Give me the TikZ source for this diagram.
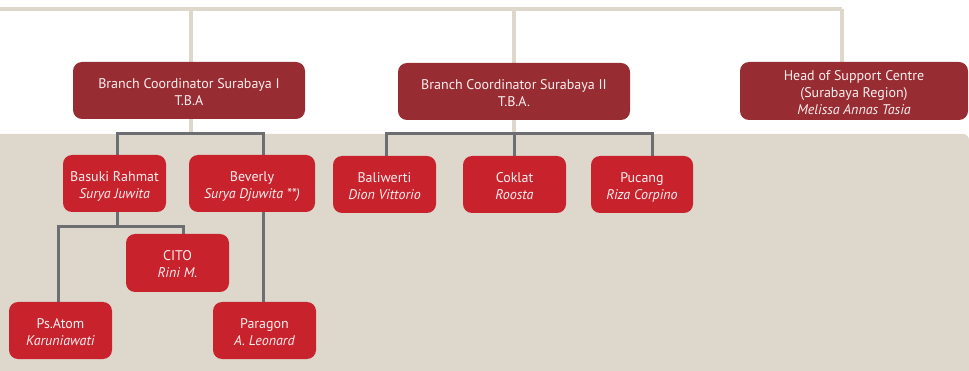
\documentclass[tikz,border=0pt]{standalone}
\usepackage{fontspec}
\setmainfont{PT Sans}
\usetikzlibrary{backgrounds}
\definecolor{beige}{HTML}{DDD7CC}
\definecolor{darkred}{HTML}{972D33}
\definecolor{brightred}{HTML}{C8232D}
\definecolor{gline}{HTML}{6D6E71}
\definecolor{txt}{HTML}{FAEEEE}
\newcommand\boxtext[1]{\begin{tabular}{@{}c@{}}\rule{0pt}{17.5pt}#1\end{tabular}}
\begin{document}
\begin{tikzpicture}[x=1pt,y=-1pt,
  boxbase/.style={rectangle, rounded corners=9pt, text=txt, inner sep=0pt,
    font=\fontsize{14}{17}\selectfont},
  topbox/.style={boxbase, fill=darkred, minimum height=57pt},
  subbox/.style={boxbase, fill=brightred, minimum width=103pt, minimum height=57pt},
  beigeln/.style={draw=beige, line width=3.2pt},
  grayln/.style={draw=gline, line width=3pt}]
\useasboundingbox (0,0) rectangle (969,371);
% nodes
\node[topbox, minimum width=232pt] (b1) at (189,90.5) {\boxtext{Branch Coordinator Surabaya I\\T.B.A}};
\node[topbox, minimum width=232pt] (b2) at (514,91.5) {\boxtext{Branch Coordinator Surabaya II\\T.B.A.}};
\node[topbox, minimum width=228pt, minimum height=58pt] (hs) at (854,91) {\boxtext{Head of Support Centre\\(Surabaya Region)\\\textit{Melissa Annas Tasia}}};
\node[subbox] (bas) at (114.5,183.5) {\boxtext{Basuki Rahmat\\\textit{Surya Juwita}}};
\node[subbox, minimum width=126pt] (bev) at (252,183.5) {\boxtext{Beverly\\\textit{Surya Djuwita **)}}};
\node[subbox, minimum height=58pt] (cito) at (177.5,263) {\boxtext{CITO\\\textit{Rini M.}}};
\node[subbox] (atom) at (60.5,330.5) {\boxtext{Ps.Atom\\\textit{Karuniawati}}};
\node[subbox] (par) at (264.5,330.5) {\boxtext{Paragon\\\textit{A. Leonard}}};
\node[subbox] (bal) at (384.5,184.5) {\boxtext{Baliwerti\\\textit{Dion Vittorio}}};
\node[subbox] (cok) at (514.5,184.5) {\boxtext{Coklat\\\textit{Roosta}}};
\node[subbox, minimum width=102pt] (puc) at (642,184.5) {\boxtext{Pucang\\\textit{Riza Corpino}}};
% junctions
\coordinate (tl) at (0,9.5);
\coordinate (t1) at (191,9.5);
\coordinate (t2) at (514,9.5);
\coordinate (tr) at (842,9.5);
\coordinate (j1) at (191,134);
\coordinate (k1) at (514,134);
\coordinate (j2) at (117,227);
\begin{scope}[on background layer]
  % beige background
  \fill[beige] (0,371) -- (0,134) [rounded corners=6pt] -- (969,134) [sharp corners] -- (969,371) -- cycle;
  % top structure
  \draw[beige, line width=4pt] (tl) -- (tr);
  \draw[beigeln] (tr) -- (tr |- hs.north);
  \draw[beigeln] (t1) -- (j1);
  \draw[beigeln] (t2) -- (k1);
  % Surabaya I tree
  \draw[grayln] ([xshift=2.5pt]bas.north) |- (j1) -| ([xshift=11pt]bev.north);
  \draw[grayln] ([xshift=2.5pt]bas.south) -- (j2);
  \draw[grayln] ([xshift=-2.5pt]atom.north) |- (j2) -| ([xshift=5.5pt]cito.north);
  \draw[grayln] ([xshift=11pt]bev.south) -- ([xshift=11pt]bev.south |- par.north);
  % Surabaya II tree
  \draw[grayln] ([xshift=1.5pt]bal.north) |- (k1) -| ([xshift=10pt]puc.north);
  \draw[grayln] (k1) -- (k1 |- cok.north);
\end{scope}
\end{tikzpicture}
\end{document}
